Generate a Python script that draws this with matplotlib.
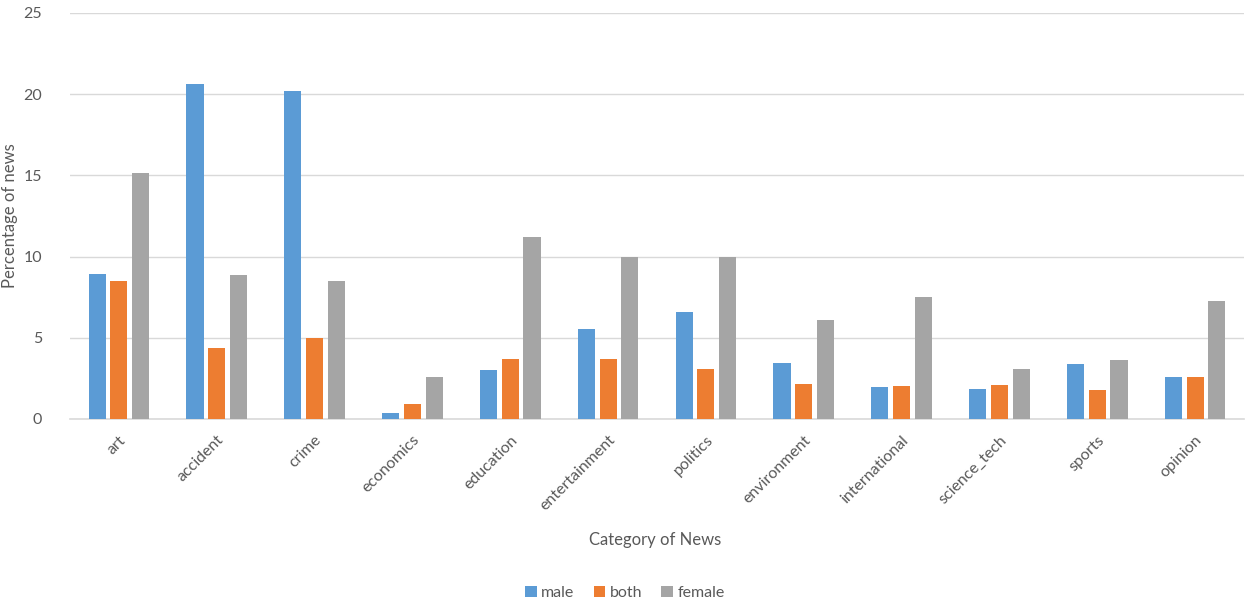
import matplotlib.pyplot as plt
import numpy as np

categories = ["art", "accident", "crime", "economics", "education", "entertainment",
              "politics", "environment", "international", "science_tech", "sports", "opinion"]
male = [8.93, 20.6, 20.2, 0.37, 3.0, 5.54, 6.6, 3.45, 2.0, 1.85, 3.4, 2.6]
both = [8.5, 4.37, 4.99, 0.9, 3.7, 3.7, 3.08, 2.15, 2.05, 2.1, 1.8, 2.6]
female = [15.15, 8.87, 8.5, 2.6, 11.2, 10.0, 10.0, 6.1, 7.5, 3.05, 3.65, 7.25]
yticks = [0, 5, 10, 15, 20, 25]

plt.rcParams["font.family"] = ["Lato", "DejaVu Sans"]
txt = "#595959"

fig = plt.figure(figsize=(12.47, 6.06), dpi=100)
ax = fig.add_axes([70 / 1247, 1 - 419 / 606, 1174 / 1247, 406 / 606])

x = np.arange(len(categories))
w = 0.175
step = 0.222
series = [("male", male, "#5B9BD5"), ("both", both, "#ED7D31"), ("female", female, "#A5A5A5")]
for i, (name, vals, col) in enumerate(series):
    ax.bar(x + (i - 1) * step, vals, w, color=col, label=name, zorder=3)

ax.set_xlim(-0.5, len(categories) - 0.5)
ax.set_ylim(0, 25)
ax.set_yticks(yticks)
ax.grid(axis="y", color="#D9D9D9", linewidth=1, zorder=0)
for s in ["top", "right", "left"]:
    ax.spines[s].set_visible(False)
ax.spines["bottom"].set_color("#D9D9D9")
ax.spines["bottom"].set_linewidth(1.2)
ax.tick_params(axis="both", length=0, colors=txt, labelsize=11.5)
ax.tick_params(axis="y", pad=20)
ax.set_xticks(x)
ax.set_xticklabels(categories, rotation=45, ha="right", rotation_mode="anchor")
ax.tick_params(axis="x", pad=10)

ax.set_ylabel("Percentage of news", fontsize=12, color=txt)
ax.yaxis.set_label_coords(-52 / 1174, 0.5)
fig.text(655 / 1247, 1 - 540 / 606, "Category of News", fontsize=12, color=txt,
         ha="center", va="center")
fig.legend(loc="center", bbox_to_anchor=(625 / 1247, 1 - 593 / 606), ncol=3, frameon=False,
           fontsize=11.5, handlelength=0.7, handleheight=0.7, handletextpad=0.3,
           columnspacing=1.2, labelcolor=txt)

fig.savefig("out.png", dpi=100)
